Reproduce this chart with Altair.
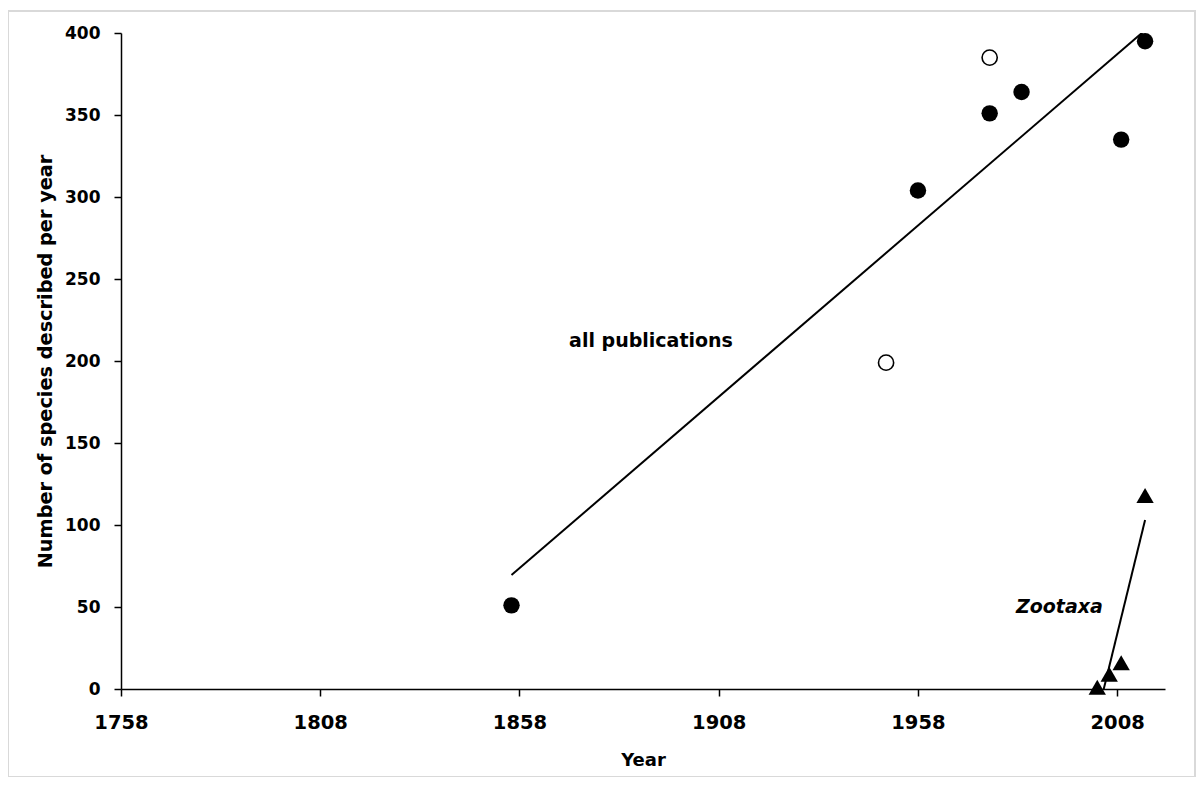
import altair as alt
import pandas as pd

# Data
filled_years = [1856, 1958, 1976, 1984, 2009, 2015]
filled_vals = [51, 304, 351, 364, 335, 395]
open_years = [1950, 1976]
open_vals = [199, 385]
zoo_years = [2003, 2006, 2009, 2015]
zoo_vals = [1, 9, 16, 118]
x_ticks = [1758, 1808, 1858, 1908, 1958, 2008]
y_ticks = [0, 50, 100, 150, 200, 250, 300, 350, 400]
label_text = ["all publications", "Zootaxa"]
label_years = [1891, 1993.5]
label_vals = [212, 50]

FONT = "DejaVu Sans"

filled_df = pd.DataFrame({"year": filled_years, "value": filled_vals})
open_df = pd.DataFrame({"year": open_years, "value": open_vals})
zoo_df = pd.DataFrame({"year": zoo_years, "value": zoo_vals})

x_enc = alt.X(
    "year:Q",
    scale=alt.Scale(domain=[1758, 2020], nice=False, zero=False),
    axis=alt.Axis(
        values=x_ticks, format="d", title="Year", labelFlush=False,
        titleX=522, titleY=71, titleBaseline="middle", titleAlign="center",
        labelFontSize=19.5, titleFontSize=18, labelPadding=17, tickSize=7,
    ),
)
y_enc = alt.Y(
    "value:Q",
    scale=alt.Scale(domain=[0, 400], nice=False),
    axis=alt.Axis(
        values=y_ticks, title="Number of species described per year",
        titleX=-76, titleY=328, titleAngle=270, titleBaseline="middle", titleAlign="center",
        labelFontSize=17, titleFontSize=19.3, labelPadding=14, tickSize=7,
    ),
)

border = alt.Chart(pd.DataFrame({"a": [0]})).mark_rect(
    fillOpacity=0, stroke="#d9d9d9", strokeWidth=2
).encode(
    x=alt.value(-113), x2=alt.value(1074), y=alt.value(-22), y2=alt.value(744)
)

trend_all = alt.Chart(filled_df).transform_regression(
    "year", "value", method="linear"
).mark_line(color="black", strokeWidth=2, clip=True).encode(x=x_enc, y=y_enc)

trend_zoo = alt.Chart(zoo_df).transform_regression(
    "year", "value", method="linear"
).mark_line(color="black", strokeWidth=2, clip=True).encode(x=x_enc, y=y_enc)

filled_pts = alt.Chart(filled_df).mark_point(
    shape="circle", filled=True, color="black", size=270, opacity=1
).encode(x=x_enc, y=y_enc)

open_pts = alt.Chart(open_df).mark_point(
    shape="circle", filled=True, fill="white", stroke="black", strokeWidth=1.6,
    size=230, opacity=1
).encode(x=x_enc, y=y_enc)

zoo_pts = alt.Chart(zoo_df).mark_point(
    shape="triangle-up", filled=True, color="black", size=300, opacity=1
).encode(x=x_enc, y=y_enc)

lab_all = alt.Chart(pd.DataFrame({"year": [label_years[0]], "value": [label_vals[0]], "t": [label_text[0]]})).mark_text(
    font=FONT, fontSize=19, fontWeight="bold", color="black"
).encode(x=x_enc, y=y_enc, text="t:N")

lab_zoo = alt.Chart(pd.DataFrame({"year": [label_years[1]], "value": [label_vals[1]], "t": [label_text[1]]})).mark_text(
    font=FONT, fontSize=19, fontWeight="bold", fontStyle="italic", color="black"
).encode(x=x_enc, y=y_enc, text="t:N")

chart = alt.layer(
    border, trend_all, trend_zoo, filled_pts, open_pts, zoo_pts, lab_all, lab_zoo
).properties(
    width=1044, height=656,
    autosize=alt.AutoSizeParams(type="none"),
    padding={"left": 113, "top": 25, "right": 31, "bottom": 88},
).configure_view(
    stroke=None
).configure_axis(
    labelFont=FONT, titleFont=FONT, labelFontWeight="bold", titleFontWeight="bold",
    labelColor="black", titleColor="black", domainColor="black", tickColor="black",
    domainWidth=1.5, tickWidth=1.5, grid=False,
)

chart.save("out.html", embed_options={"renderer": "svg", "actions": False})
